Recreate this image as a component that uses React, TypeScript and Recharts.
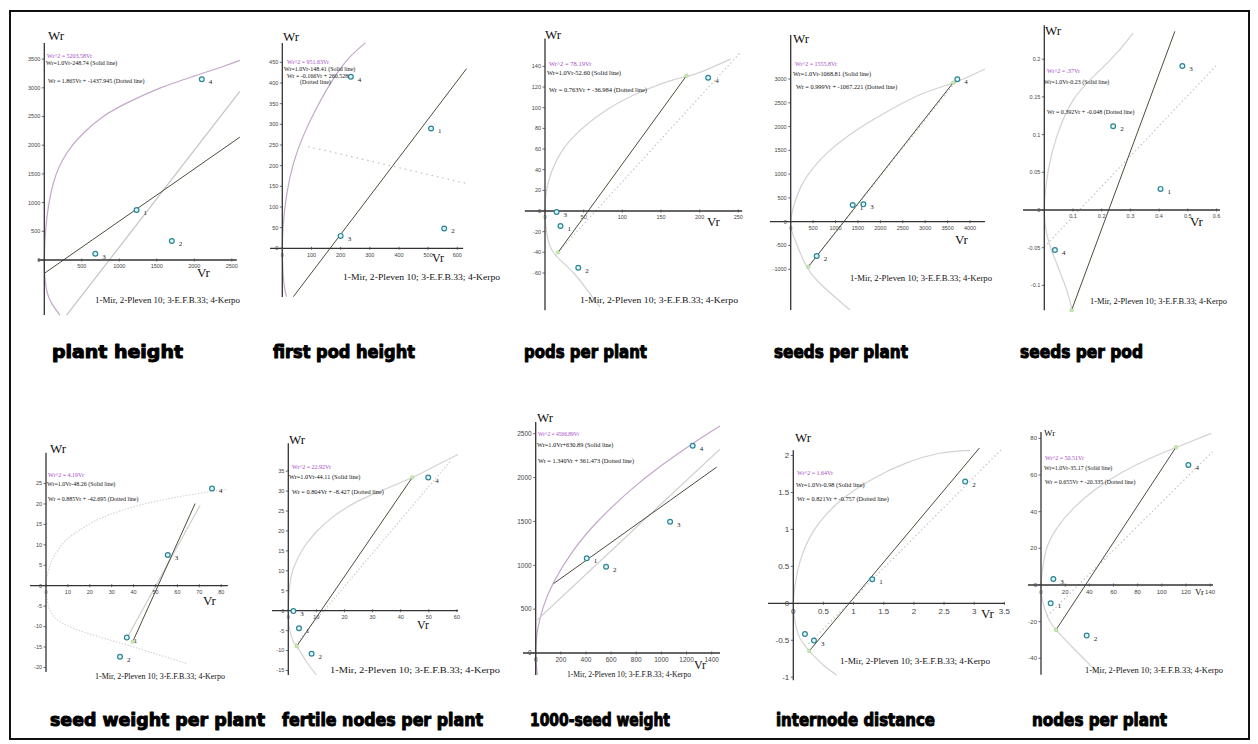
import React from 'react';
import { ComposedChart, XAxis, YAxis, Line, Scatter, ReferenceLine, ReferenceDot } from 'recharts';

// ---------- DATA ----------
const legendText = '1-Mir, 2-Pleven 10; 3-E.F.B.33; 4-Kerpo';

// 1 plant height
const p1Points = [{ x: 1230, y: 870, n: '1' }, { x: 1700, y: 330, n: '2' }, { x: 680, y: 110, n: '3' }, { x: 2100, y: 3150, n: '4' }];
const p1Curve = [{ x: 209, y: -959 }, { x: 98, y: -756 }, { x: 31, y: -523 }, { x: 4, y: -233 }, { x: 0, y: 0 }, { x: 22, y: 581 }, { x: 120, y: 1337 }, { x: 298, y: 1860 }, { x: 520, y: 2209 }, { x: 786, y: 2500 }, { x: 1097, y: 2733 }, { x: 1541, y: 2994 }, { x: 1985, y: 3198 }, { x: 2385, y: 3372 }, { x: 2607, y: 3477 }];
const p1Solid = [{ x: 0, y: -233 }, { x: 2607, y: 2140 }];
const p1Dotted = [{ x: 298, y: -959 }, { x: 2607, y: 2936 }];
const p1Green: { x: number; y: number }[] = [];
const p1XTicks = [500, 1000, 1500, 2000, 2500];
const p1YTicks = [0, 500, 1000, 1500, 2000, 2500, 3000, 3500];

// 2 first pod height
const p2Points = [{ x: 510, y: 290, n: '1' }, { x: 555, y: 48, n: '2' }, { x: 200, y: 30, n: '3' }, { x: 235, y: 415, n: '4' }];
const p2Curve = [{ x: 14.9, y: -117 }, { x: 9.1, y: -101 }, { x: 3.4, y: -68.5 }, { x: 1.1, y: -36 }, { x: 0, y: 0 }, { x: 3, y: 55 }, { x: 15, y: 130 }, { x: 38, y: 205 }, { x: 72, y: 272 }, { x: 118, y: 340 }, { x: 175, y: 410 }, { x: 232, y: 463 }, { x: 285, y: 497 }];
const p2Solid = [{ x: 38, y: -117 }, { x: 632, y: 435 }];
const p2Dotted = [{ x: 89, y: 246 }, { x: 632, y: 157 }];
const p2Green: { x: number; y: number }[] = [];
const p2XTicks = [0, 100, 200, 300, 400, 500, 600];
const p2YTicks = [0, 50, 100, 150, 200, 250, 300, 350, 400, 450];

// 3 pods per plant
const p3Points = [{ x: 20, y: -14.5, n: '1' }, { x: 43, y: -55, n: '2' }, { x: 15, y: -1, n: '3' }, { x: 211, y: 129, n: '4' }];
const p3Curve = [{ x: 71, y: -93 }, { x: 58, y: -80 }, { x: 37, y: -60 }, { x: 15, y: -44 }, { x: 4, y: -28 }, { x: 0, y: 0 }, { x: 4, y: 27 }, { x: 15, y: 49 }, { x: 37, y: 72 }, { x: 80, y: 98 }, { x: 123, y: 115 }, { x: 166, y: 127 }, { x: 196, y: 133 }, { x: 240, y: 147 }];
const p3Solid = [{ x: 17, y: -40 }, { x: 183, y: 131 }];
const p3Dotted = [{ x: 13, y: -43 }, { x: 252, y: 153 }];
const p3Green = [{ x: 17, y: -40 }, { x: 183, y: 131 }];
const p3XTicks = [0, 50, 100, 150, 200, 250];
const p3YTicks = [-60, -40, -20, 0, 20, 40, 60, 80, 100, 120, 140];

// 4 seeds per plant
const p4Points = [{ x: 1383, y: 351, n: '1' }, { x: 580, y: -722, n: '2' }, { x: 1621, y: 365, n: '3' }, { x: 3717, y: 2994, n: '4' }];
const p4Curve = [{ x: 1323, y: -1858 }, { x: 729, y: -1367 }, { x: 357, y: -947 }, { x: 97, y: -386 }, { x: 0, y: 0 }, { x: 134, y: 526 }, { x: 357, y: 947 }, { x: 803, y: 1437 }, { x: 1472, y: 1928 }, { x: 2216, y: 2349 }, { x: 2959, y: 2700 }, { x: 3703, y: 2945 }, { x: 4333, y: 3210 }];
const p4Solid = [{ x: 394, y: -947 }, { x: 3643, y: 2945 }];
const p4Dotted = [{ x: 360, y: -980 }, { x: 3720, y: 2990 }];
const p4Green = [{ x: 394, y: -947 }, { x: 3628, y: 2922 }];
const p4XTicks = [0, 500, 1000, 1500, 2000, 2500, 3000, 3500, 4000];
const p4YTicks = [-1000, -500, 0, 500, 1000, 1500, 2000, 2500, 3000];

// 5 seeds per pod
const p5Points = [{ x: 0.405, y: 0.028, n: '1' }, { x: 0.24, y: 0.111, n: '2' }, { x: 0.481, y: 0.191, n: '3' }, { x: 0.037, y: -0.053, n: '4' }];
const p5Curve = [{ x: 0.095, y: -0.13 }, { x: 0.078, y: -0.106 }, { x: 0.043, y: -0.071 }, { x: 0.014, y: -0.04 }, { x: 0, y: 0 }, { x: 0.014, y: 0.053 }, { x: 0.043, y: 0.097 }, { x: 0.101, y: 0.146 }, { x: 0.182, y: 0.181 }, { x: 0.252, y: 0.208 }, { x: 0.31, y: 0.235 }];
const p5Solid = [{ x: 0.095, y: -0.133 }, { x: 0.455, y: 0.237 }];
const p5Dotted = [{ x: 0, y: -0.049 }, { x: 0.6, y: 0.192 }];
const p5Green = [{ x: 0.095, y: -0.133 }];
const p5XTicks = [0.1, 0.2, 0.3, 0.4, 0.5, 0.6];
const p5YTicks = [-0.1, -0.05, 0, 0.05, 0.1, 0.15, 0.2];

// 6 seed weight per plant
const p6Points = [{ x: 36.9, y: -12.7, n: '1' }, { x: 33.8, y: -17.4, n: '2' }, { x: 55.6, y: 7.5, n: '3' }, { x: 75.8, y: 23.8, n: '4' }];
const p6Curve = [{ x: 64, y: -19 }, { x: 52, y: -17 }, { x: 37, y: -14.5 }, { x: 21.6, y: -12.1 }, { x: 6.4, y: -8.8 }, { x: 1, y: -4.7 }, { x: 0, y: 0 }, { x: 1, y: 3.5 }, { x: 3, y: 6.5 }, { x: 8, y: 10.5 }, { x: 15, y: 13.5 }, { x: 25, y: 16.5 }, { x: 40, y: 19.3 }, { x: 55, y: 21.2 }, { x: 70, y: 22.6 }, { x: 83, y: 23.6 }];
const p6Solid = [{ x: 39.6, y: -13.7 }, { x: 68.1, y: 20.1 }];
const p6Dotted = [{ x: 37.7, y: -12.1 }, { x: 70.4, y: 19.7 }];
const p6Green = [{ x: 39.6, y: -13.7 }];
const p6XTicks = [0, 10, 20, 30, 40, 50, 60, 70, 80];
const p6YTicks = [-20, -15, -10, -5, 0, 5, 10, 15, 20, 25];

// 7 fertile nodes per plant
const p7Points = [{ x: 3.8, y: -4.4, n: '1' }, { x: 8.3, y: -10.8, n: '2' }, { x: 1.8, y: -0.1, n: '3' }, { x: 49.8, y: 33.4, n: '4' }];
const p7Curve = [{ x: 10, y: -16.1 }, { x: 6.5, y: -12.8 }, { x: 3, y: -8.9 }, { x: 1.8, y: -7.8 }, { x: 0.4, y: -4.4 }, { x: 0, y: 0 }, { x: 0.4, y: 5.6 }, { x: 1.8, y: 10.6 }, { x: 5.3, y: 15.6 }, { x: 10, y: 19.8 }, { x: 16, y: 23.6 }, { x: 24.3, y: 27.3 }, { x: 33.8, y: 30.3 }, { x: 44.1, y: 33.4 }, { x: 52.8, y: 36.5 }, { x: 60.4, y: 39.2 }];
const p7Solid = [{ x: 3, y: -8.9 }, { x: 44.1, y: 33.4 }];
const p7Dotted = [{ x: 2.5, y: -8.5 }, { x: 57.5, y: 37.4 }];
const p7Green = [{ x: 3, y: -8.9 }, { x: 44.1, y: 33.4 }];
const p7XTicks = [0, 10, 20, 30, 40, 50, 60];
const p7YTicks = [-15, -10, -5, 0, 5, 10, 15, 20, 25, 30, 35];

// 8 1000-seed weight
const p8Points = [{ x: 406, y: 1079, n: '1' }, { x: 560, y: 984, n: '2' }, { x: 1069, y: 1497, n: '3' }, { x: 1249, y: 2363, n: '4' }];
const p8Curve = [{ x: 14, y: -251 }, { x: 3, y: -117 }, { x: 0, y: 0 }, { x: 5, y: 151 }, { x: 20, y: 302 }, { x: 60, y: 523 }, { x: 141, y: 802 }, { x: 300, y: 1170 }, { x: 500, y: 1511 }, { x: 750, y: 1851 }, { x: 1000, y: 2137 }, { x: 1250, y: 2389 }, { x: 1466, y: 2588 }];
const p8Solid = [{ x: 141, y: 790 }, { x: 1440, y: 2120 }];
const p8Dotted = [{ x: 10, y: 375 }, { x: 1466, y: 2325 }];
const p8Green: { x: number; y: number }[] = [];
const p8XTicks = [0, 200, 400, 600, 800, 1000, 1200, 1400];
const p8YTicks = [0, 500, 1000, 1500, 2000, 2500];

// 9 internode distance
const p9Points = [{ x: 1.309, y: 0.325, n: '1' }, { x: 2.85, y: 1.647, n: '2' }, { x: 0.343, y: -0.505, n: '3' }, { x: 0.193, y: -0.415, n: '' }];
const p9Curve = [{ x: 0.72, y: -0.97 }, { x: 0.497, y: -0.835 }, { x: 0.265, y: -0.645 }, { x: 0.11, y: -0.47 }, { x: 0.028, y: -0.248 }, { x: 0, y: 0 }, { x: 0.03, y: 0.25 }, { x: 0.11, y: 0.56 }, { x: 0.33, y: 0.97 }, { x: 0.77, y: 1.38 }, { x: 1.33, y: 1.69 }, { x: 1.88, y: 1.9 }, { x: 2.43, y: 2.03 }, { x: 2.93, y: 2.07 }];
const p9Solid = [{ x: 0.265, y: -0.645 }, { x: 3.138, y: 2.152 }];
const p9Dotted = [{ x: 0.25, y: -0.55 }, { x: 3.45, y: 2.08 }];
const p9Green = [{ x: 0.265, y: -0.645 }];
const p9XTicks = [0, 0.5, 1, 1.5, 2, 2.5, 3, 3.5];
const p9YTicks = [-1, -0.5, 0, 0.5, 1, 1.5, 2];

// 10 nodes per plant
const p10Points = [{ x: 8, y: -10, n: '1' }, { x: 37.8, y: -27.6, n: '2' }, { x: 10.2, y: 3.3, n: '3' }, { x: 122, y: 65.5, n: '4' }];
const p10Curve = [{ x: 48.8, y: -49 }, { x: 40.6, y: -43.6 }, { x: 26.8, y: -34.5 }, { x: 12.4, y: -24.5 }, { x: 6, y: -18.2 }, { x: 1.4, y: -9.1 }, { x: 0, y: 0 }, { x: 1.4, y: 9.1 }, { x: 4.7, y: 20 }, { x: 13, y: 30.9 }, { x: 26.8, y: 41.8 }, { x: 46, y: 52.7 }, { x: 68, y: 61.8 }, { x: 90, y: 69 }, { x: 111.7, y: 75 }, { x: 141, y: 82.7 }];
const p10Solid = [{ x: 12.4, y: -24.5 }, { x: 111.7, y: 75.1 }];
const p10Dotted = [{ x: 5, y: -17 }, { x: 142, y: 72.7 }];
const p10Green = [{ x: 12.4, y: -24.5 }, { x: 111.7, y: 75.1 }];
const p10XTicks = [0, 20, 40, 60, 80, 100, 120, 140];
const p10YTicks = [-40, -20, 0, 20, 40, 60, 80];

// ---------- LAYOUT / STYLE ----------
const SERIF = '"Liberation Serif", "Times New Roman", serif';
const SANS = '"Liberation Sans", Arial, sans-serif';
const PURPLE = '#c6a6cc';
const GRAY = '#d2d2d2';

type Pt = { x: number; y: number };
type PanelCfg = {
  box: { L: number; T: number; R: number; B: number; ox: number; oy: number; sx: number; sy: number };
  xAxis: [number, number];
  yAxis: [number, number];
  points: { x: number; y: number; n: string }[];
  curve: Pt[];
  solid: Pt[];
  dotted: Pt[];
  green: Pt[];
  xTicks: number[];
  yTicks: number[];
  curveColor: string;
  curveDash?: string;
  dottedDash?: string;
  dottedColor: string;
  tickFont: number;
};

const panels: PanelCfg[] = [
  { box: { L: 36, T: 40, R: 242, B: 318, ox: 44.3, oy: 260, sx: 0.075, sy: 0.0574 }, xAxis: [-84, 2566], yAxis: [-960, 3780], points: p1Points, curve: p1Curve, solid: p1Solid, dotted: p1Dotted, green: p1Green, xTicks: p1XTicks, yTicks: p1YTicks, curveColor: PURPLE, dottedColor: '#c4c4c4', tickFont: 5.5 },
  { box: { L: 266, T: 38, R: 470, B: 300, ox: 282.3, oy: 248.3, sx: 0.2917, sy: 0.4133 }, xAxis: [-42, 620], yAxis: [-118, 497], points: p2Points, curve: p2Curve, solid: p2Solid, dotted: p2Dotted, green: p2Green, xTicks: p2XTicks, yTicks: p2YTicks, curveColor: '#bfaac4', dottedColor: '#c0c0c0', dottedDash: '1.5 4', tickFont: 5.5 },
  { box: { L: 520, T: 30, R: 742, B: 312, ox: 545, oy: 211, sx: 0.7733, sy: 1.033 }, xAxis: [-26, 255], yAxis: [-96, 167], points: p3Points, curve: p3Curve, solid: p3Solid, dotted: p3Dotted, green: p3Green, xTicks: p3XTicks, yTicks: p3YTicks, curveColor: GRAY, dottedColor: '#c6c6c6', dottedDash: '1.5 2.5', tickFont: 5.5 },
  { box: { L: 766, T: 30, R: 990, B: 312, ox: 790.7, oy: 221.7, sx: 0.04483, sy: 0.04756 }, xAxis: [-463, 4333], yAxis: [-1857, 3926], points: p4Points, curve: p4Curve, solid: p4Solid, dotted: p4Dotted, green: p4Green, xTicks: p4XTicks, yTicks: p4YTicks, curveColor: GRAY, dottedColor: '#c6c6c6', dottedDash: '1.5 2.5', tickFont: 5.5 },
  { box: { L: 1018, T: 22, R: 1232, B: 312, ox: 1044.3, oy: 210, sx: 287, sy: 754 }, xAxis: [-0.074, 0.612], yAxis: [-0.133, 0.245], points: p5Points, curve: p5Curve, solid: p5Solid, dotted: p5Dotted, green: p5Green, xTicks: p5XTicks, yTicks: p5YTicks, curveColor: GRAY, dottedColor: '#c6c6c6', dottedDash: '1.5 2.5', tickFont: 5.5 },
  { box: { L: 28, T: 445, R: 232, B: 676, ox: 46, oy: 585.7, sx: 2.19, sy: 4.087 }, xAxis: [-7.3, 83], yAxis: [-21.1, 32.5], points: p6Points, curve: p6Curve, solid: p6Solid, dotted: p6Dotted, green: p6Green, xTicks: p6XTicks, yTicks: p6YTicks, curveColor: '#d6d6d6', curveDash: '1.5 1.5', dottedColor: '#d0d0d0', tickFont: 5.5 },
  { box: { L: 268, T: 435, R: 470, B: 676, ox: 288.3, oy: 610.7, sx: 2.81, sy: 3.987 }, xAxis: [-5.8, 60.4], yAxis: [-16.1, 42], points: p7Points, curve: p7Curve, solid: p7Solid, dotted: p7Dotted, green: p7Green, xTicks: p7XTicks, yTicks: p7YTicks, curveColor: GRAY, dottedColor: '#cfcfcf', dottedDash: '1.5 2', tickFont: 5.5 },
  { box: { L: 520, T: 415, R: 725, B: 676, ox: 535.7, oy: 653, sx: 0.1257, sy: 0.0877 }, xAxis: [-101, 1466], yAxis: [-251, 2634], points: p8Points, curve: p8Curve, solid: p8Solid, dotted: p8Dotted, green: p8Green, xTicks: p8XTicks, yTicks: p8YTicks, curveColor: PURPLE, dottedColor: '#cdcdcd', tickFont: 6.5 },
  { box: { L: 765, T: 448, R: 1010, B: 682, ox: 793.3, oy: 603.3, sx: 60.3, sy: 73.9 }, xAxis: [-0.42, 3.51], yAxis: [-1.04, 2.07], points: p9Points, curve: p9Curve, solid: p9Solid, dotted: p9Dotted, green: p9Green, xTicks: p9XTicks, yTicks: p9YTicks, curveColor: GRAY, dottedColor: '#c6c6c6', dottedDash: '1.5 2.5', tickFont: 8 },
  { box: { L: 1025, T: 428, R: 1228, B: 676, ox: 1041, oy: 585, sx: 1.208, sy: 1.833 }, xAxis: [-10.8, 142.4], yAxis: [-49, 83.5], points: p10Points, curve: p10Curve, solid: p10Solid, dotted: p10Dotted, green: p10Green, xTicks: p10XTicks, yTicks: p10YTicks, curveColor: GRAY, dottedColor: '#c6c6c6', dottedDash: '1.5 2.5', tickFont: 6 },
];

type Txt = { t: string; x: number; y: number; s: number; c?: string; f?: string; len?: number; w?: number };
const MAG = '#a64bc4';
const texts: Txt[] = [
  // panel 1
  { t: 'Wr', x: 48, y: 35, s: 13 },
  { t: 'Wr^2 = 5203.58Vr', x: 47, y: 56, s: 6, c: MAG },
  { t: 'Wr=1.0Vr-248.74 (Solid line)', x: 46, y: 62.5, s: 6 },
  { t: 'Wr = 1.865Vr + -1437.945 (Dotted line)', x: 48, y: 81, s: 6 },
  { t: legendText, x: 95, y: 300, s: 8.5, len: 145 },
  { t: 'Vr', x: 197, y: 272, s: 13 },
  // panel 2
  { t: 'Wr', x: 283, y: 36, s: 13 },
  { t: 'Wr^2 = 951.63Vr', x: 287, y: 62, s: 6, c: MAG },
  { t: 'Wr=1.0Vr-148.41 (Solid line)', x: 284, y: 69, s: 6 },
  { t: 'Wr = -0.166Vr + 260.528', x: 287, y: 75.5, s: 6 },
  { t: '(Dotted line)', x: 300, y: 82, s: 6 },
  { t: legendText, x: 343, y: 277, s: 9, len: 157 },
  { t: 'Vr', x: 432, y: 258, s: 12 },
  // panel 3
  { t: 'Wr', x: 545, y: 34, s: 13 },
  { t: 'Wr^2 = 78.19Vr', x: 549, y: 63, s: 6.5, c: MAG },
  { t: 'Wr=1.0Vr-52.60 (Solid line)', x: 547, y: 72, s: 6.5 },
  { t: 'Wr = 0.763Vr + -36.984 (Dotted line)', x: 549, y: 89, s: 6.5 },
  { t: legendText, x: 580, y: 300, s: 9, len: 158 },
  { t: 'Vr', x: 707, y: 221, s: 13 },
  // panel 4
  { t: 'Wr', x: 793, y: 38, s: 13 },
  { t: 'Wr^2 = 1555.8Vr', x: 795, y: 64, s: 6, c: MAG },
  { t: 'Wr=1.0Vr-1068.81 (Solid line)', x: 793, y: 73, s: 6.3 },
  { t: 'Wr = 0.999Vr + -1067.221 (Dotted line)', x: 796, y: 86, s: 6.3 },
  { t: legendText, x: 850, y: 278, s: 9, len: 142 },
  { t: 'Vr', x: 955, y: 239, s: 13 },
  // panel 5
  { t: 'Wr', x: 1045, y: 30, s: 13 },
  { t: 'Wr^2 = .37Vr', x: 1047, y: 71, s: 6, c: MAG },
  { t: 'Wr=1.0Vr-0.23 (Solid line)', x: 1044, y: 82, s: 6 },
  { t: 'Wr = 0.392Vr + -0.048 (Dotted line)', x: 1047, y: 112, s: 6 },
  { t: legendText, x: 1090, y: 301, s: 8.5, len: 137 },
  { t: 'Vr', x: 1190, y: 221, s: 13 },
  // panel 6
  { t: 'Wr', x: 50, y: 448, s: 13 },
  { t: 'Wr^2 = 4.19Vr', x: 48, y: 475, s: 6, c: MAG },
  { t: 'Wr=1.0Vr-48.26 (Solid line)', x: 47, y: 484, s: 6 },
  { t: 'Wr = 0.885Vr + -42.695 (Dotted line)', x: 48, y: 499, s: 6 },
  { t: legendText, x: 95, y: 676, s: 8.5, len: 130 },
  { t: 'Vr', x: 203, y: 600, s: 13 },
  // panel 7
  { t: 'Wr', x: 289, y: 439, s: 13 },
  { t: 'Wr^2 = 22.92Vr', x: 292, y: 467, s: 6, c: MAG },
  { t: 'Wr=1.0Vr-44.11 (Solid line)', x: 289, y: 476, s: 6.3 },
  { t: 'Wr = 0.804Vr + -8.427 (Dotted line)', x: 292, y: 491, s: 6.3 },
  { t: legendText, x: 330, y: 670, s: 9, len: 170 },
  { t: 'Vr', x: 417, y: 625, s: 12 },
  // panel 8
  { t: 'Wr', x: 537, y: 417, s: 13 },
  { t: 'Wr^2 = 4566.89Vr', x: 538, y: 434, s: 5.5, c: MAG },
  { t: 'Wr=1.0Vr+630.89 (Solid line)', x: 537, y: 444, s: 6.3 },
  { t: 'Wr = 1.340Vr + 361.473 (Dotted line)', x: 538, y: 460, s: 6.3 },
  { t: legendText, x: 567, y: 674, s: 8.5, len: 124 },
  { t: 'Vr', x: 694, y: 665, s: 12 },
  // panel 9
  { t: 'Wr', x: 795, y: 437, s: 13 },
  { t: 'Wr^2 = 1.64Vr', x: 797, y: 473, s: 6, c: MAG },
  { t: 'Wr=1.0Vr-0.98 (Solid line)', x: 796, y: 484, s: 6.3 },
  { t: 'Wr = 0.821Vr + -0.757 (Dotted line)', x: 797, y: 498, s: 6.3 },
  { t: legendText, x: 840, y: 661, s: 8.5, len: 150 },
  { t: 'Vr', x: 981, y: 613, s: 13 },
  // panel 10
  { t: 'Wr', x: 1044, y: 433, s: 9 },
  { t: 'Wr^2 = 50.51Vr', x: 1045, y: 458, s: 6, c: MAG },
  { t: 'Wr=1.0Vr-35.17 (Solid line)', x: 1044, y: 468, s: 6 },
  { t: 'Wr = 0.655Vr + -20.335 (Dotted line)', x: 1045, y: 482, s: 6 },
  { t: legendText, x: 1085, y: 670, s: 8.5, len: 138 },
  { t: 'Vr', x: 1195, y: 592, s: 9 },
];

const titles: Txt[] = [
  { t: 'plant height', x: 52, y: 352, s: 17, len: 131 },
  { t: 'first pod height', x: 273, y: 352, s: 17, len: 142 },
  { t: 'pods per plant', x: 524, y: 352, s: 17, len: 123 },
  { t: 'seeds per plant', x: 774, y: 352, s: 17, len: 134 },
  { t: 'seeds per pod', x: 1020, y: 352, s: 17, len: 123 },
  { t: 'seed weight per plant', x: 50, y: 720, s: 17, len: 215 },
  { t: 'fertile nodes per plant', x: 282, y: 720, s: 17, len: 201 },
  { t: '1000-seed weight', x: 530, y: 720, s: 17, len: 140 },
  { t: 'internode distance', x: 776, y: 720, s: 17, len: 159 },
  { t: 'nodes per plant', x: 1032, y: 720, s: 17, len: 135 },
];

const PAD = 24;

function Panel({ p }: { p: PanelCfg }) {
  const { L, T, R, B, ox, oy, sx, sy } = p.box;
  const W = R - L;
  const H = B - T;
  const xDom = [(L - ox) / sx, (R - ox) / sx];
  const yDom = [(oy - B) / sy, (oy - T) / sy];
  const tf = p.tickFont;
  return (
    <div style={{ position: 'absolute', left: L - PAD, top: T - PAD }}>
      <ComposedChart width={W + 2 * PAD} height={H + 2 * PAD} margin={{ top: PAD, right: PAD, bottom: PAD, left: PAD }}>
        <XAxis type="number" dataKey="x" domain={xDom} hide allowDataOverflow />
        <YAxis type="number" dataKey="y" domain={yDom} hide allowDataOverflow />
        <Line data={p.curve} dataKey="y" type="natural" stroke={p.curveColor} strokeWidth={1.2} strokeDasharray={p.curveDash} dot={false} isAnimationActive={false} />
        <Line data={p.dotted} dataKey="y" type="linear" stroke={p.dottedColor} strokeWidth={1.2} strokeDasharray={p.dottedDash} dot={false} isAnimationActive={false} />
        <Line data={p.solid} dataKey="y" type="linear" stroke="#4d4d3c" strokeWidth={1} dot={false} isAnimationActive={false} />
        <ReferenceLine segment={[{ x: p.xAxis[0], y: 0 }, { x: p.xAxis[1], y: 0 }]} stroke="#333" strokeWidth={1.3} ifOverflow="visible" />
        <ReferenceLine segment={[{ x: 0, y: p.yAxis[0] }, { x: 0, y: p.yAxis[1] }]} stroke="#333" strokeWidth={1.3} ifOverflow="visible" />
        {p.xTicks.map((t) => (
          <ReferenceDot key={'x' + t} x={t} y={0} r={0} ifOverflow="visible"
            shape={(s: any) => (
              <g>
                <line x1={s.cx} y1={s.cy - 1.5} x2={s.cx} y2={s.cy + 1.5} stroke="#444" strokeWidth={0.8} />
                <text x={s.cx} y={s.cy + 4 + tf * 0.8} fontSize={tf} fill="#444" fontFamily={SANS} textAnchor="middle">{String(t)}</text>
              </g>
            )} />
        ))}
        {p.yTicks.map((t) => (
          <ReferenceDot key={'y' + t} x={0} y={t} r={0} ifOverflow="visible"
            shape={(s: any) => (
              <g>
                <line x1={s.cx - 2.5} y1={s.cy} x2={s.cx} y2={s.cy} stroke="#444" strokeWidth={0.8} />
                <text x={s.cx - 4} y={s.cy + tf * 0.35} fontSize={tf} fill="#444" fontFamily={SANS} textAnchor="end">{String(t)}</text>
              </g>
            )} />
        ))}
        <Scatter data={p.green} isAnimationActive={false}
          shape={(s: any) => <circle cx={s.cx} cy={s.cy} r={1.8} fill="#c7ebb5" stroke="#9fd08a" strokeWidth={0.6} />} />
        <Scatter data={p.points} isAnimationActive={false}
          shape={(s: any) => (
            <g>
              <circle cx={s.cx} cy={s.cy} r={2.4} fill="#dff6f6" stroke="#2d8496" strokeWidth={1.2} />
              <text x={s.cx + 7} y={s.cy + 5} fontSize={7} fill="#222" fontFamily={SERIF}>{s.payload?.n}</text>
            </g>
          )} />
      </ComposedChart>
    </div>
  );
}

export default function App() {
  return (
    <div style={{ position: 'absolute', left: 0, top: 0, width: 1258, height: 744, background: '#fff', overflow: 'hidden' }}>
      <div style={{ position: 'absolute', left: 9, top: 10, width: 1241, height: 730, border: '2px solid #111', boxSizing: 'border-box' }} />
      {panels.map((p, i) => (
        <Panel key={i} p={p} />
      ))}
      <svg width={1258} height={744} style={{ position: 'absolute', left: 0, top: 0, pointerEvents: 'none' }}>
        {texts.map((t, i) => (
          <text key={i} x={t.x} y={t.y} fontSize={t.s} fill={t.c || '#111'} fontFamily={SERIF} dominantBaseline="central"
            textLength={t.len} lengthAdjust={t.len ? 'spacingAndGlyphs' : undefined}>{t.t}</text>
        ))}
        {titles.map((t, i) => (
          <text key={'t' + i} x={t.x} y={t.y} fontSize={t.s} fill="#000" fontFamily='"DejaVu Sans", sans-serif' fontWeight="bold"
            stroke="#000" strokeWidth={1} strokeLinejoin="round" dominantBaseline="central" textLength={t.len} lengthAdjust="spacingAndGlyphs">{t.t}</text>
        ))}
      </svg>
    </div>
  );
}
